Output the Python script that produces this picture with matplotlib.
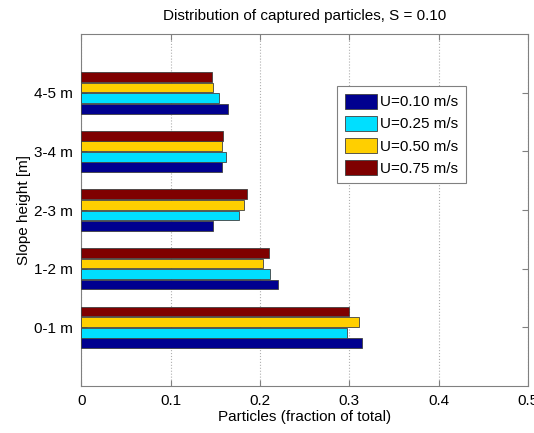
import matplotlib.pyplot as plt
import numpy as np

plt.rcParams['font.family'] = ['Liberation Sans', 'DejaVu Sans']

heights = ['0-1 m', '1-2 m', '2-3 m', '3-4 m', '4-5 m']
u_labels = ['U=0.10 m/s', 'U=0.25 m/s', 'U=0.50 m/s', 'U=0.75 m/s']
u010 = [0.314, 0.220, 0.147, 0.158, 0.164]
u025 = [0.297, 0.211, 0.177, 0.162, 0.154]
u050 = [0.311, 0.203, 0.182, 0.157, 0.148]
u075 = [0.300, 0.210, 0.185, 0.159, 0.146]
series = [u010, u025, u050, u075]
colors = ['#00008f', '#00dfff', '#ffcf00', '#7f0000']

fig = plt.figure(figsize=(5.34, 4.33), dpi=100)
ax = fig.add_axes([0.152, 0.1085, 0.837, 0.8125])

y = np.arange(1, len(heights) + 1)
bh = 0.18
for i, (vals, col, lab) in enumerate(zip(series, colors, u_labels)):
    ax.barh(y + (i - 1.5) * bh, vals, height=bh * 0.92, color=col,
            edgecolor='#404040', linewidth=0.6, label=lab, zorder=3)

ax.set_xlim(0, 0.5)
ax.set_ylim(0, 6)
ax.set_xticks([0, 0.1, 0.2, 0.3, 0.4, 0.5])
ax.set_xticklabels(['0', '0.1', '0.2', '0.3', '0.4', '0.5'])
ax.set_yticks(y)
ax.set_yticklabels(heights)
ax.xaxis.grid(True, linestyle=':', color='#b0b0b0', linewidth=0.8, zorder=0)
ax.tick_params(direction='in', length=4, labelsize=11, color='#808080',
               top=True, right=True, pad=6)
for s in ax.spines.values():
    s.set_color('#808080')

ax.set_xlabel('Particles (fraction of total)', fontsize=11, labelpad=1)
ax.set_ylabel('Slope height [m]', fontsize=11, labelpad=2)
ax.set_title('Distribution of captured particles, S = 0.10', fontsize=11, pad=10)

leg = ax.legend(loc='upper left', bbox_to_anchor=(0.573, 0.853), fontsize=11,
                fancybox=False, framealpha=1, edgecolor='#808080',
                handlelength=2.1, handleheight=1.15, labelspacing=0.42,
                borderpad=0.5, handletextpad=0.2, borderaxespad=0)
leg.get_frame().set_linewidth(0.8)

fig.savefig('out.png', dpi=100)
